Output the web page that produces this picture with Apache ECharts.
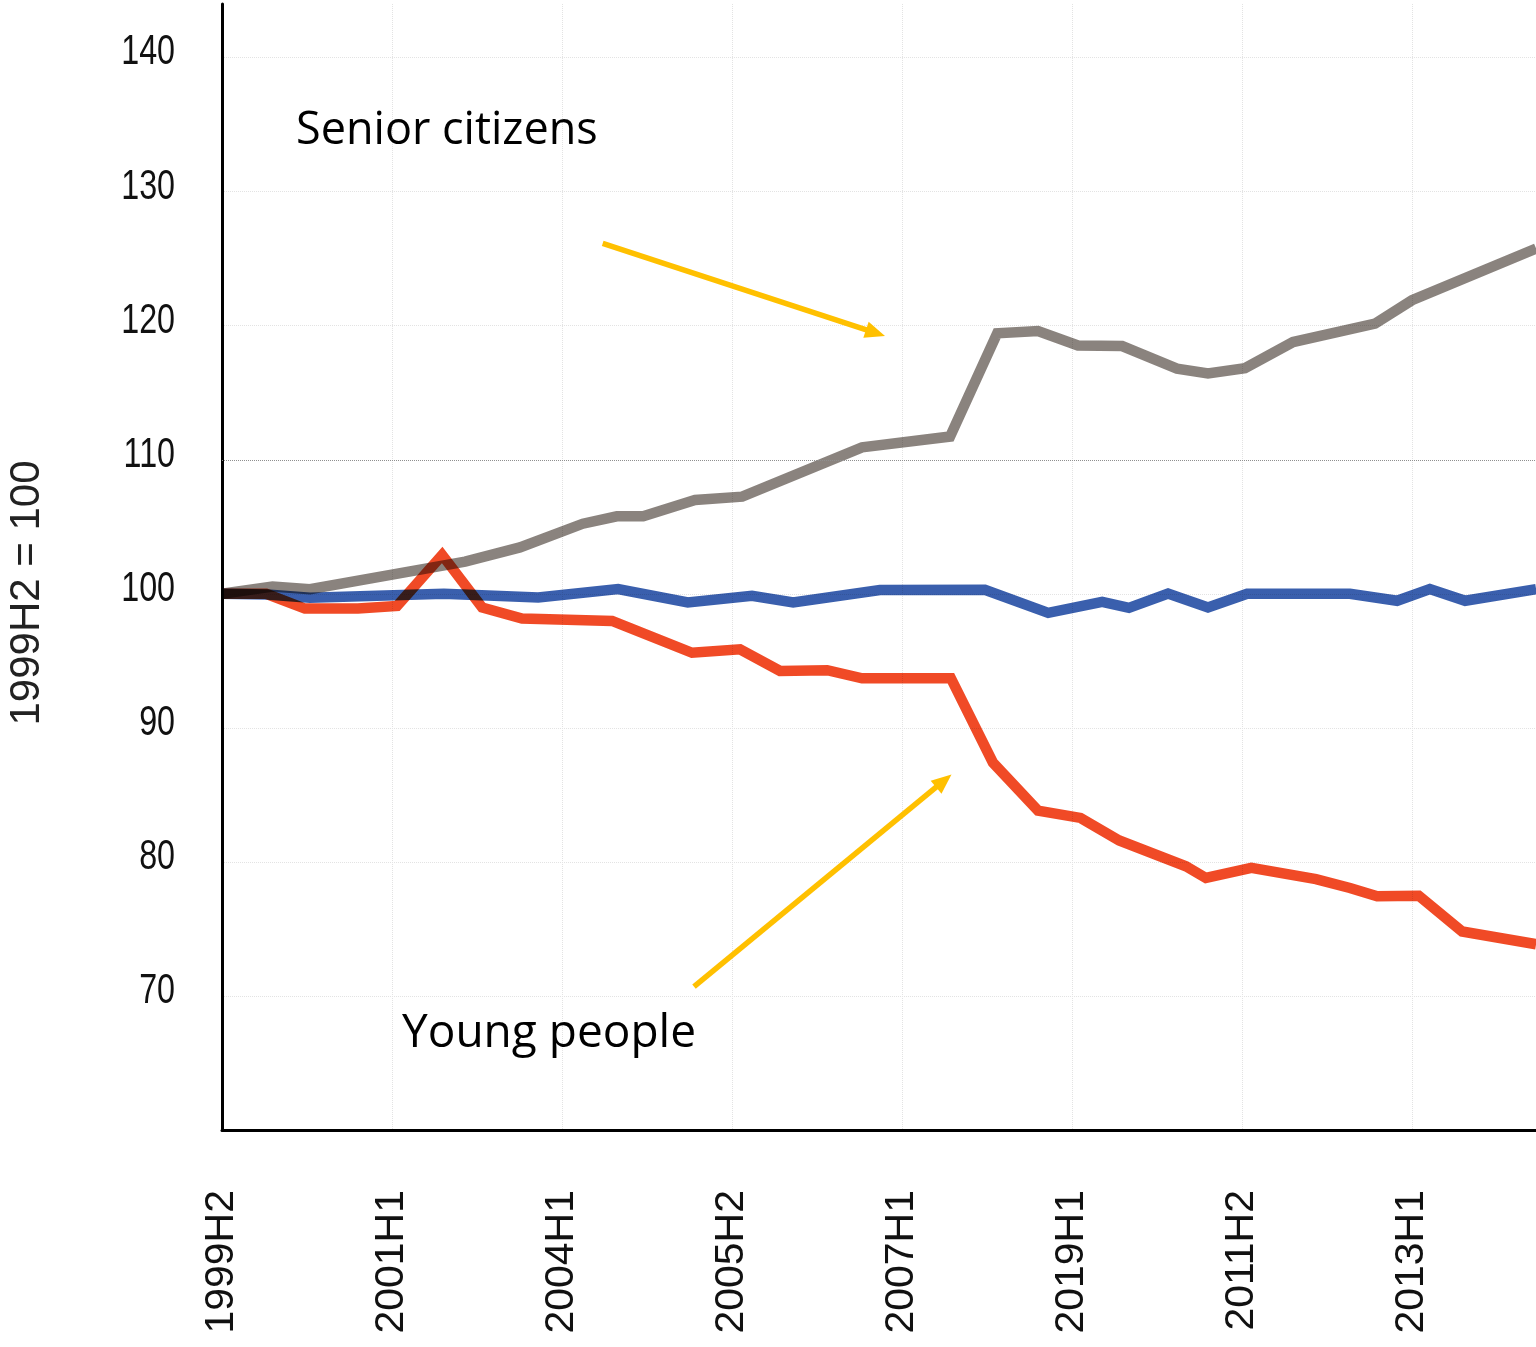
<!DOCTYPE html>
<html>
<head>
<meta charset="utf-8">
<script src="https://cdn.jsdelivr.net/npm/echarts@6/dist/echarts.min.js"></script>
<style>
html,body{margin:0;padding:0;background:#fff;overflow:hidden}
#c{width:1536px;height:1347px}
</style>
</head>
<body>
<div id="c"></div>
<script>
// Tick labels shown every 4 periods on the x axis
const tickLabels = ['1999H2', '2001H1', '2004H1', '2005H2', '2007H1', '2019H1', '2011H2', '2013H1'];
const yTicks = [70, 80, 90, 100, 110, 120, 130, 140];

// x positions are in half-year period units (0 = 1999H2)
const seniorX = [0, 1.19, 2.07, 5.72, 7.01, 8.49, 9.29, 9.91, 11.13, 12.24, 15.06, 17.13, 18.24, 19.20, 20.14, 21.18, 22.47, 23.20, 24.07, 25.20, 27.13, 28.00, 30.92];
const seniorY = [100, 100.55, 100.35, 102.4, 103.46, 105.23, 105.78, 105.78, 107.0, 107.25, 110.93, 111.73, 119.43, 119.6, 118.53, 118.48, 116.8, 116.44, 116.84, 118.78, 120.16, 121.9, 125.76];

const totalX = [0, 1.06, 2.07, 5.22, 7.44, 9.32, 10.96, 12.47, 13.44, 15.48, 17.95, 19.44, 20.71, 21.34, 22.26, 23.20, 24.12, 26.54, 27.65, 28.42, 29.25, 30.92];
const totalY = [100, 99.95, 99.7, 100.0, 99.72, 100.35, 99.35, 99.85, 99.35, 100.28, 100.3, 98.58, 99.4, 98.95, 100.02, 98.98, 100.0, 100.0, 99.48, 100.35, 99.48, 100.35];

const youngX = [0, 1.04, 1.95, 3.20, 4.12, 5.18, 6.12, 7.06, 9.18, 11.06, 12.19, 13.13, 14.24, 15.06, 17.15, 18.14, 19.20, 20.20, 21.11, 22.68, 23.15, 24.22, 25.74, 26.54, 27.18, 28.16, 29.18, 30.92];
const youngY = [100, 100, 98.9, 98.9, 99.1, 102.9, 98.98, 98.15, 97.98, 95.6, 95.86, 94.25, 94.3, 93.7, 93.7, 87.4, 83.83, 83.28, 81.6, 79.67, 78.8, 79.55, 78.72, 78.05, 77.43, 77.48, 74.81, 73.86];

const zip = (xs, ys) => xs.map((x, i) => [x, ys[i]]);

function arrow(x1, y1, x2, y2, color) {
  const dx = x2 - x1, dy = y2 - y1, L = Math.hypot(dx, dy);
  const ux = dx / L, uy = dy / L, hl = 20, hw = 8.5;
  const bx = x2 - ux * hl, by = y2 - uy * hl;
  return [
    {type: 'line', shape: {x1: x1, y1: y1, x2: bx + ux * 2, y2: by + uy * 2}, style: {stroke: color, lineWidth: 5.5}, z: 10},
    {type: 'polygon', shape: {points: [[x2, y2], [bx - uy * hw, by + ux * hw], [bx + uy * hw, by - ux * hw]]}, style: {fill: color}, z: 10}
  ];
}

const chart = echarts.init(document.getElementById('c'), null, {renderer: 'canvas'});
const lineW = 10.5;
const option = {
  animation: false,
  backgroundColor: '#ffffff',
  grid: {left: 222, top: 4, width: 1360, height: 1126, outerBoundsMode: 'none', containLabel: false},
  xAxis: {
    type: 'value', min: 0, max: 32, interval: 4,
    axisLine: {show: true, onZero: false, lineStyle: {color: '#000', width: 3}},
    axisTick: {show: false},
    splitLine: {show: true, lineStyle: {color: '#e3e3e3', type: 'dotted', width: 1}},
    axisLabel: {
      rotate: 90, margin: 60, fontFamily: 'Liberation Sans, Arial, sans-serif', fontSize: 41, color: '#111',
      hideOverlap: false,
      formatter: v => tickLabels[Math.round(v / 4)] || ''
    }
  },
  yAxis: {
    type: 'value', min: 60, max: 144, interval: 10,
    name: '1999H2 = 100', nameLocation: 'middle', nameRotate: 90, nameGap: 174,
    nameTextStyle: {fontFamily: 'Liberation Sans, Arial, sans-serif', fontSize: 42, color: '#222', padding: [0, 52, 0, 0]},
    axisLine: {show: true, lineStyle: {color: '#000', width: 3}},
    axisTick: {show: false},
    splitLine: {show: true, showMaxLine: false, showMinLine: false, lineStyle: {color: '#e3e3e3', type: 'dotted', width: 1}},
    // tick labels are drawn below as condensed text at the axis' own pixel positions
    axisLabel: {show: false}
  },
  series: [
    {
      name: 'ref', type: 'line', data: [], z: 1, silent: true,
      markLine: {silent: true, symbol: 'none', label: {show: false},
        lineStyle: {color: '#8f8f8f', type: 'dotted', width: 1}, data: [{yAxis: 110}]}
    },
    {name: 'Senior citizens', type: 'line', data: zip(seniorX, seniorY), showSymbol: false, z: 3,
      lineStyle: {color: '#8a837e', width: lineW, join: 'miter'}, itemStyle: {color: '#8a837e'}},
    {name: 'Total', type: 'line', data: zip(totalX, totalY), showSymbol: false, z: 3,
      lineStyle: {color: '#3a5fad', width: lineW, join: 'miter'}, itemStyle: {color: '#3a5fad'}},
    {name: 'Young people', type: 'line', data: zip(youngX, youngY), showSymbol: false, z: 3,
      lineStyle: {color: '#f04a26', width: lineW, join: 'miter'}, itemStyle: {color: '#f04a26'}}
  ]
};
chart.setOption(option);

// y tick labels: horizontally condensed text placed through the y axis scale
const axisX = chart.convertToPixel({xAxisIndex: 0}, 0);
const yLabelGraphics = yTicks.map(v => ({
  type: 'text', x: axisX - 47, y: chart.convertToPixel({yAxisIndex: 0}, v) - 5, scaleX: 0.75, z: 10,
  style: {text: String(v), font: '43px "Liberation Sans", Arial, sans-serif', fill: '#111', align: 'right', verticalAlign: 'middle'}
}));

chart.setOption({
  graphic: [
    ...yLabelGraphics,
    {type: 'text', x: 296, y: 131.5, z: 10, style: {text: 'Senior citizens', font: '45px "Open Sans", sans-serif', fill: '#000', align: 'left', verticalAlign: 'middle'}},
    {type: 'text', x: 402, y: 1034, z: 10, style: {text: 'Young people', font: '46px "Open Sans", sans-serif', fill: '#000', align: 'left', verticalAlign: 'middle'}},
    ...arrow(602.7, 243.3, 885, 336, '#ffc000'),
    ...arrow(694, 986.7, 951.5, 774.5, '#ffc000')
  ]
});

// multiply blending of the thick lines, as in the reference
try {
  const zr = chart.getZr();
  zr.storage.getDisplayList(true).forEach(el => {
    if (el.type === 'ec-polyline') { el.style.blend = 'multiply'; el.markRedraw(); }
  });
  zr.refreshImmediately();
} catch (e) {}
</script>
</body>
</html>
